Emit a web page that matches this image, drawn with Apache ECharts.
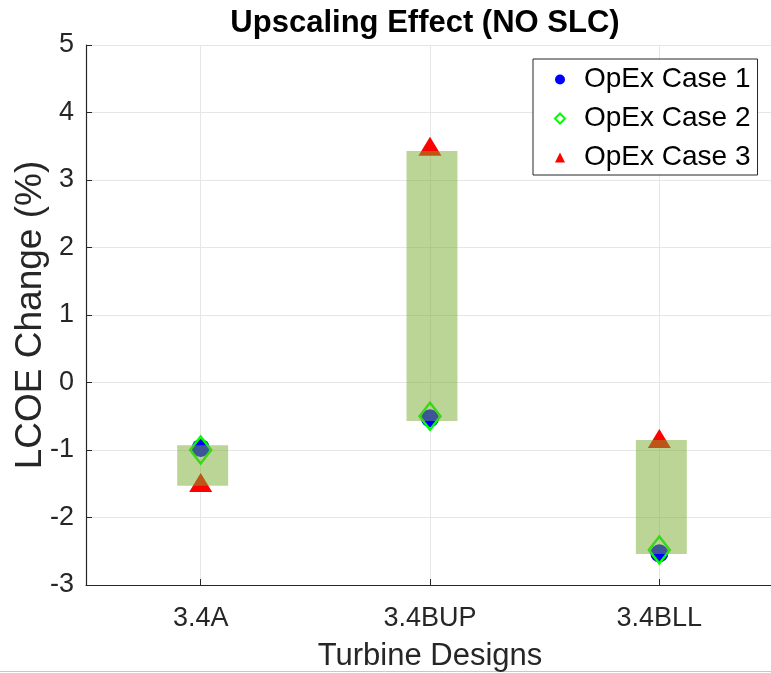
<!DOCTYPE html>
<html>
<head>
<meta charset="utf-8">
<script src="https://cdn.jsdelivr.net/npm/echarts@6/dist/echarts.min.js"></script>
<style>
  html, body { margin: 0; padding: 0; background: #ffffff; }
  #chart { width: 771px; height: 673px; }
</style>
</head>
<body>
<div id="chart"></div>
<script>
// Turbine designs compared
const categories = ['3.4A', '3.4BUP', '3.4BLL'];

// LCOE change (%) for each OpEx case
const opexCase1 = [-0.97, -0.53, -2.53];
const opexCase2 = [-1.0, -0.5, -2.48];
const opexCase3 = [-1.48, 3.5, -0.83];

// Shaded range per design (low / high)
const rangeLow = [-1.53, -0.57, -2.54];
const rangeHigh = [-0.93, 3.43, -0.85];

// Y axis ticks
const yTicks = [-3, -2, -1, 0, 1, 2, 3, 4, 5];

const textColor = '#262626';
const fontFamily = 'Liberation Sans, Arial, Helvetica, sans-serif';

const chart = echarts.init(document.getElementById('chart'), null, { renderer: 'canvas' });

const pairs = arr => arr.map((v, i) => [i, v]);

const option = {
  backgroundColor: '#ffffff',
  animation: false,
  title: {
    text: 'Upscaling Effect (NO SLC)',
    left: 420,
    top: 3,
    textAlign: 'center',
    textStyle: { fontFamily, fontSize: 31, fontWeight: 'bold', color: '#000000' }
  },
  grid: { left: 86, right: -3, top: 45, bottom: 88, containLabel: false, outerBoundsMode: 'none' },
  legend: {
    left: 533,
    top: 59,
    orient: 'vertical',
    data: ['OpEx Case 1', 'OpEx Case 2', 'OpEx Case 3'],
    backgroundColor: '#ffffff',
    borderColor: '#262626',
    borderWidth: 1,
    borderRadius: 0,
    padding: [6, 7, 3, 21],
    itemGap: 10,
    itemWidth: 10,
    itemHeight: 10,
    textStyle: { fontFamily, fontSize: 28, color: '#000000', padding: [0, 0, 0, 14], lineHeight: 29 }
  },
  xAxis: {
    type: 'category',
    data: categories,
    boundaryGap: true,
    name: 'Turbine Designs',
    nameLocation: 'middle',
    nameGap: 56,
    nameMoveOverlap: false,
    nameTextStyle: { fontFamily, fontSize: 31, color: textColor },
    axisLine: { show: true, onZero: false, lineStyle: { color: textColor, width: 1.2 } },
    axisTick: { show: true, inside: true, length: 6, alignWithLabel: true, lineStyle: { color: textColor } },
    axisLabel: { fontFamily, fontSize: 27, color: textColor, margin: 20 },
    splitLine: { show: true, alignWithLabel: true, lineStyle: { color: '#e6e6e6', width: 1 } }
  },
  yAxis: {
    type: 'value',
    min: yTicks[0],
    max: yTicks[yTicks.length - 1],
    interval: 1,
    name: 'LCOE Change (%)',
    nameLocation: 'middle',
    nameGap: 37,
    nameMoveOverlap: false,
    nameTextStyle: { fontFamily, fontSize: 37, color: textColor },
    axisLine: { show: true, lineStyle: { color: textColor, width: 1.2 } },
    axisTick: { show: true, inside: true, length: 6, lineStyle: { color: textColor } },
    axisLabel: { fontFamily, fontSize: 27, color: textColor, margin: 12 },
    splitLine: { show: true, lineStyle: { color: '#e6e6e6', width: 1 } }
  },
  series: [
    {
      name: 'OpEx Case 1',
      type: 'scatter',
      data: pairs(opexCase1),
      symbol: 'circle',
      symbolSize: 18,
      itemStyle: { color: '#0000ff', opacity: 1 },
      z: 2
    },
    {
      name: 'OpEx Case 2',
      type: 'scatter',
      data: pairs(opexCase2),
      symbol: 'diamond',
      symbolSize: [21, 27],
      itemStyle: { color: 'rgba(0,0,0,0)', borderColor: '#00ff00', borderWidth: 2.5, opacity: 1 },
      z: 3
    },
    {
      name: 'OpEx Case 3',
      type: 'scatter',
      data: pairs(opexCase3),
      symbol: 'triangle',
      symbolSize: [23, 19],
      itemStyle: { color: '#ff0000', opacity: 1 },
      z: 4
    },
    {
      name: 'range',
      type: 'custom',
      data: categories.map((c, i) => [i, rangeLow[i], rangeHigh[i]]),
      encode: { x: 0, y: [1, 2] },
      z: 10,
      silent: true,
      renderItem: function (params, api) {
        const lo = api.coord([api.value(0), api.value(1)]);
        const hi = api.coord([api.value(0), api.value(2)]);
        const band = api.size([1, 0])[0];
        const w = band * 0.222;
        return {
          type: 'rect',
          shape: { x: lo[0] - w / 2 + 2, y: hi[1], width: w, height: lo[1] - hi[1] },
          style: { fill: 'rgba(119,172,48,0.5)' }
        };
      }
    }
  ],
  graphic: [
    {
      type: 'line',
      shape: { x1: 0, y1: 671.5, x2: 771, y2: 671.5 },
      style: { stroke: '#c8c8c8', lineWidth: 1 },
      silent: true
    }
  ]
};

chart.setOption(option);
</script>
</body>
</html>
